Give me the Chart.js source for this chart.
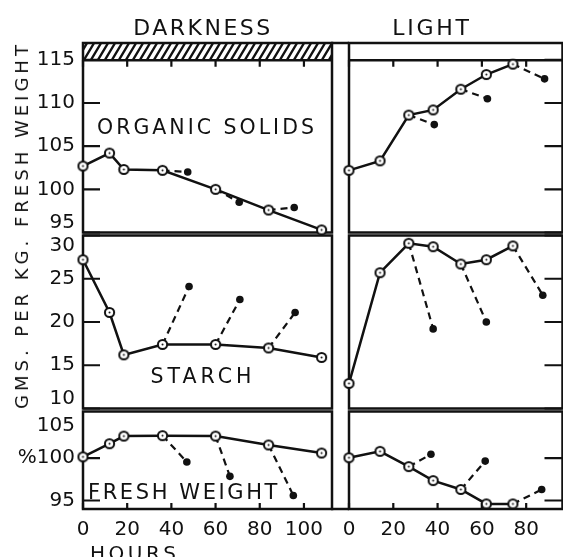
<!DOCTYPE html>
<html>
<head>
<meta charset="utf-8">
<script src="https://cdn.jsdelivr.net/npm/chart.js@4.4.0/dist/chart.umd.min.js"></script>
<style>
    body { margin: 0; background: #fff; }
    #page { position: relative; width: 563px; height: 557px; overflow: hidden; background: #fff;
            font-family: 'DejaVu Sans', sans-serif; color: #111; }
    #page canvas { position: absolute; }
    .lbl { position: absolute; white-space: nowrap; line-height: 1; transform: translate(-50%, -50%); }
</style>
</head>
<body>
<div id="page">
    <canvas id="darkTop"></canvas>
    <canvas id="darkMid"></canvas>
    <canvas id="darkBot"></canvas>
    <canvas id="lightTop"></canvas>
    <canvas id="lightMid"></canvas>
    <canvas id="lightBot"></canvas>

    <div class="lbl" style="left:203px; top:28px; font-size:22px; letter-spacing:2.5px;">DARKNESS</div>
    <div class="lbl" style="left:432px; top:28px; font-size:22px; letter-spacing:2.75px;">LIGHT</div>
    <div class="lbl" style="left:207px; top:127px; font-size:20.5px; letter-spacing:3px;">ORGANIC SOLIDS</div>
    <div class="lbl" style="left:203px; top:376px; font-size:20.5px; letter-spacing:4px;">STARCH</div>
    <div class="lbl" style="left:184px; top:492px; font-size:21px; letter-spacing:2.6px;">FRESH WEIGHT</div>
    <div class="lbl" style="left:90px; top:543px; font-size:20px; letter-spacing:3.5px; transform:none;">HOURS</div>
    <div class="lbl" style="left:22px; top:225px; font-size:18px; letter-spacing:4px; transform:translate(-50%, -50%) rotate(-90deg);">GMS. PER KG. FRESH WEIGHT</div>
</div>
<script>
// valeurs
var hoursDark = [0, 12, 18.5, 36, 60, 84, 108];
var hoursLight = [0, 14, 27, 38, 50.5, 62, 74];

var organicDark = [102.7, 104.2, 102.3, 102.2, 100.0, 97.6, 95.3];
var organicLight = [102.2, 103.3, 108.6, 109.2, 111.6, 113.3, 114.5];
var starchDark = [27.2, 21.1, 16.2, 17.4, 17.4, 17.0, 15.9];
var starchLight = [12.9, 25.7, 29.1, 28.7, 26.7, 27.2, 28.8];
var freshDark = [100.15, 101.7, 102.6, 102.65, 102.6, 101.55, 100.6];
var freshLight = [100.05, 100.8, 99.0, 97.35, 96.3, 94.6, 94.6];

// branches en pointillé : index du point de départ, heure et valeur du point plein
var branchFromDark = [3, 4, 5];
var branchFromLight = [2, 4, 6];
var organicDarkEndX = [47.4, 70.7, 95.6];
var organicDarkEndY = [102.0, 98.5, 97.9];
var organicLightEndX = [38.5, 62.5, 88.3];
var organicLightEndY = [107.5, 110.5, 112.8];
var starchDarkEndX = [48, 71, 96];
var starchDarkEndY = [24.1, 22.6, 21.1];
var starchLightEndX = [38, 62, 87.5];
var starchLightEndY = [19.2, 20.0, 23.1];
var freshDarkEndX = [47, 66.5, 95.2];
var freshDarkEndY = [99.55, 97.85, 95.6];
var freshLightEndX = [37, 61.5, 87];
var freshLightEndY = [100.45, 99.65, 96.3];

// graduations
var hourTicksDark = [0, 20, 40, 60, 80, 100];
var hourTicksLight = [0, 20, 40, 60, 80];
var hourLabelsDark = ['0', '20', '40', '60', '80', '100'];
var hourLabelsLight = ['0', '20', '40', '60', '80'];
var organicTicks = [95, 100, 105, 110, 115];
var organicTickLabels = [['95', ''], '100', '105', '110', '115'];
var starchTicks = [10, 15, 20, 25, 30];
var starchTickLabels = [['10', ''], '15', '20', '25', ['', '30']];
var freshTicks = [95, 100, 105];
var freshTickLabels = ['95', '%100', ['', '105']];

var INK = '#111';
var FONT = "'DejaVu Sans', sans-serif";

// colonnes et rangées (taille des canvas / marges pour placer la zone du graphique)
var COLS = {
    dark:  { left: 0,   width: 340, padL: 0,  padR: 8, yWidth: 83, yPos: 'left',  xMax: 112.7,
             xTicks: hourTicksDark, xLabels: hourLabelsDark },
    light: { left: 330, width: 240, padL: 19, padR: 0, yWidth: 5,  yPos: 'right', xMax: 96.4,
             xTicks: hourTicksLight, xLabels: hourLabelsLight }
};
var ROWS = {
    top: { top: 30,  height: 210, padT: 13, padB: 6, yMin: 95, yMax: 116.95, ticks: organicTicks, labels: organicTickLabels },
    mid: { top: 228, height: 188, padT: 6,  padB: 6, yMin: 10, yMax: 30,     ticks: starchTicks,  labels: starchTickLabels },
    bot: { top: 404, height: 166, padT: 6,  padB: 0, yMin: 94, yMax: 105.5,  ticks: freshTicks,   labels: freshTickLabels, hideMark: 105 }
};

// petit cercle ouvert avec un point au centre
function makeRing()
{
    var c = document.createElement('canvas');
    c.width = 13; c.height = 13;
    var g = c.getContext('2d');
    g.fillStyle = '#fff';
    g.strokeStyle = INK;
    g.lineWidth = 2;
    g.beginPath(); g.arc(6.5, 6.5, 4.6, 0, Math.PI * 2); g.fill(); g.stroke();
    g.fillStyle = INK;
    g.beginPath(); g.arc(6.5, 6.5, 1, 0, Math.PI * 2); g.fill();
    return c;
}
var ring = makeRing();

// les axes ne doivent pas rogner la zone du graphique
function fixSize(prop, size)
{
    return function(s) {
        if (prop) s[prop] = size;
        s.paddingTop = 0;
        s.paddingBottom = 0;
        s.paddingLeft = 0;
        s.paddingRight = 0;
    };
}

// cadre, graduations vers l'intérieur et hachures, réglés par panneau
function makeFramePlugin(f)
{
    return {
        id: 'frame',
        beforeDatasetsDraw: function(chart) {
            var ctx = chart.ctx, a = chart.chartArea;
            var sx = chart.scales.x, sy = chart.scales.y;
            ctx.save();
            if (f.hatch) {
                var yLine = sy.getPixelForValue(f.hatch);
                var h = yLine - a.top;
                ctx.save();
                ctx.beginPath();
                ctx.rect(a.left, a.top, a.right - a.left, h);
                ctx.clip();
                ctx.strokeStyle = INK;
                ctx.lineWidth = 2.4;
                ctx.beginPath();
                for (var x = a.left - 20; x < a.right + 10; x += 7) {
                    ctx.moveTo(x, yLine);
                    ctx.lineTo(x + h * 0.6, a.top);
                }
                ctx.stroke();
                ctx.restore();
            }
            ctx.strokeStyle = INK;
            ctx.lineWidth = 2.5;
            ctx.strokeRect(a.left, a.top, a.right - a.left, a.bottom - a.top);
            if (f.bridge) {
                var yb = a[f.bridge];
                ctx.beginPath();
                ctx.moveTo(a.left - 18, yb);
                ctx.lineTo(a.left, yb);
                ctx.stroke();
            }

            ctx.lineWidth = 2.2;
            ctx.setLineDash([]);
            ctx.beginPath();
            f.yTicks.forEach(function(v) {
                if (v === f.hideMark) return;
                var py = sy.getPixelForValue(v);
                if (f.ySide === 'left') {
                    ctx.moveTo(a.left, py); ctx.lineTo(a.left + 17, py);
                } else {
                    ctx.moveTo(a.right, py); ctx.lineTo(a.right - 18, py);
                }
            });
            if (f.xBase) {
                var base = f.xBase === 'bottom' ? a.bottom : sy.getPixelForValue(f.xBase);
                var len = f.xBase === 'bottom' ? -6 : 7;
                f.xTicks.forEach(function(v) {
                    var px = sx.getPixelForValue(v);
                    ctx.moveTo(px, base); ctx.lineTo(px, base + len);
                });
            }
            ctx.stroke();
            ctx.restore();
        }
    };
}

function buildDatasets(hours, values, from, endX, endY)
{
    var sets = [{
        data: hours.map(function(h, i) { return { x: h, y: values[i] }; }),
        showLine: true,
        borderColor: INK,
        borderWidth: 2.5,
        pointStyle: ring,
        pointRadius: 5,
        clip: false,
        order: 0
    }];
    from.forEach(function(idx, k) {
        sets.push({
            data: [{ x: hours[idx], y: values[idx] }, { x: endX[k], y: endY[k] }],
            showLine: true,
            borderColor: INK,
            borderWidth: 2.2,
            borderDash: [7, 5],
            pointRadius: [0, 3.8],
            pointBackgroundColor: INK,
            pointBorderWidth: 0,
            clip: false,
            order: 1
        });
    });
    return sets;
}

function createPanel(id, colKey, rowKey, datasets, extraFrame)
{
    var col = COLS[colKey], row = ROWS[rowKey];
    var canvas = document.getElementById(id);
    canvas.width = col.width;
    canvas.height = row.height;
    canvas.style.left = col.left + 'px';
    canvas.style.top = row.top + 'px';

    var xScale = {
        type: 'linear',
        min: 0,
        max: col.xMax,
        afterFit: fixSize(null),
        afterBuildTicks: function(s) { s.ticks = col.xTicks.map(function(v) { return { value: v }; }); },
        grid: { display: false, drawTicks: false }
    };
    if (rowKey === 'top') {
        // l'axe des heures est accroché à la ligne 115
        xScale.position = { y: 115 };
        xScale.ticks = { display: false };
        xScale.border = { display: true, color: INK, width: 2.5 };
    } else if (rowKey === 'mid') {
        xScale.display = false;
    } else {
        xScale.position = 'bottom';
        xScale.afterFit = fixSize('height', 61);
        xScale.ticks = {
            color: INK, padding: 11, maxRotation: 0, autoSkip: false,
            font: { family: FONT, size: 20, lineHeight: 1 },
            callback: function(v, i) { return col.xLabels[i]; }
        };
        xScale.border = { display: false };
    }

    var yScale = {
        type: 'linear',
        min: row.yMin,
        max: row.yMax,
        position: col.yPos,
        afterFit: fixSize('width', col.yWidth),
        afterBuildTicks: function(s) { s.ticks = row.ticks.map(function(v) { return { value: v }; }); },
        ticks: {
            display: colKey === 'dark',
            color: INK, padding: 8, autoSkip: false,
            font: { family: FONT, size: 20, lineHeight: 1 },
            callback: function(v, i) { return row.labels[i]; }
        },
        grid: { display: false, drawTicks: false },
        border: { display: false }
    };

    var frame = {
        ySide: col.yPos,
        yTicks: row.ticks,
        xTicks: col.xTicks,
        xBase: rowKey === 'top' ? 115 : (rowKey === 'bot' ? 'bottom' : 0),
        hideMark: row.hideMark
    };
    Object.assign(frame, extraFrame || {});

    return new Chart(canvas, {
        type: 'scatter',
        data: { datasets: datasets },
        options: {
            responsive: false,
            animation: false,
            devicePixelRatio: 1,
            events: [],
            layout: { padding: { left: col.padL, right: col.padR, top: row.padT, bottom: row.padB } },
            scales: { x: xScale, y: yScale },
            plugins: { legend: { display: false }, tooltip: { enabled: false } }
        },
        plugins: [makeFramePlugin(frame)]
    });
}

createPanel('darkTop', 'dark', 'top',
    buildDatasets(hoursDark, organicDark, branchFromDark, organicDarkEndX, organicDarkEndY), { hatch: 115 });
createPanel('darkMid', 'dark', 'mid',
    buildDatasets(hoursDark, starchDark, branchFromDark, starchDarkEndX, starchDarkEndY));
createPanel('darkBot', 'dark', 'bot',
    buildDatasets(hoursDark, freshDark, branchFromDark, freshDarkEndX, freshDarkEndY));
createPanel('lightTop', 'light', 'top',
    buildDatasets(hoursLight, organicLight, branchFromLight, organicLightEndX, organicLightEndY), { bridge: 'top' });
createPanel('lightMid', 'light', 'mid',
    buildDatasets(hoursLight, starchLight, branchFromLight, starchLightEndX, starchLightEndY));
createPanel('lightBot', 'light', 'bot',
    buildDatasets(hoursLight, freshLight, branchFromLight, freshLightEndX, freshLightEndY), { bridge: 'bottom' });
</script>
</body>
</html>
